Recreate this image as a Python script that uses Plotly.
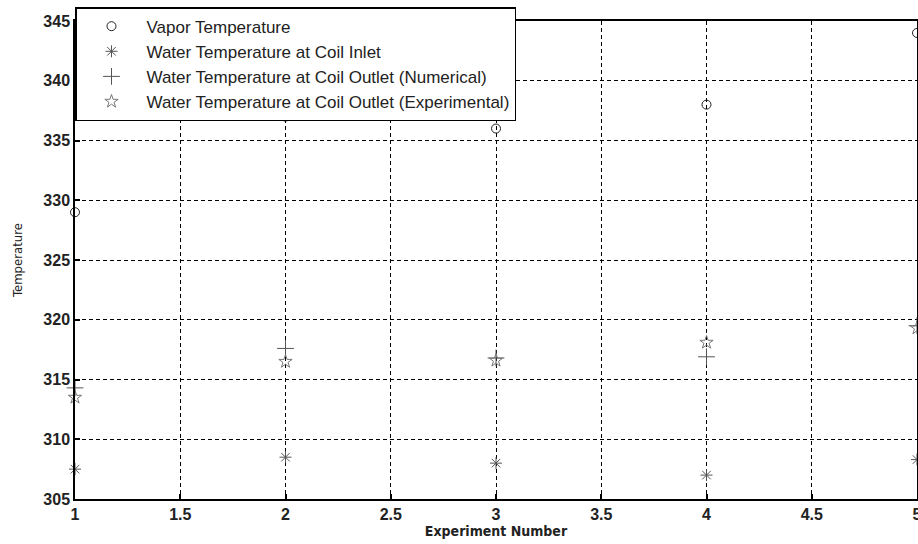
import plotly.graph_objects as go

experiments = [1, 2, 3, 4, 5]
vapor_temp = [329.0, 337.0, 336.0, 338.0, 344.0]
inlet_temp = [307.5, 308.5, 308.0, 307.0, 308.3]
outlet_numerical = [314.3, 317.6, 316.8, 316.9, 319.5]
outlet_experimental = [313.5, 316.5, 316.6, 318.1, 319.3]

x_ticks = [1, 1.5, 2, 2.5, 3, 3.5, 4, 4.5, 5]
y_ticks = [305, 310, 315, 320, 325, 330, 335, 340, 345]

series = [
    ("Vapor Temperature", vapor_temp, "circle-open", "#222222", 9),
    ("Water Temperature at Coil Inlet", inlet_temp, "asterisk-open", "#555555", 10),
    ("Water Temperature at Coil Outlet (Numerical)", outlet_numerical, "cross-thin-open", "#555555", 12),
    ("Water Temperature at Coil Outlet (Experimental)", outlet_experimental, "star-open", "#777777", 10),
]

fig = go.Figure()
for name, vals, sym, col, sz in series:
    fig.add_trace(go.Scatter(
        x=experiments, y=vals, mode="markers", name=name,
        marker=dict(symbol=sym, size=sz, color=col, line=dict(color=col, width=1)),
        cliponaxis=False,
    ))

axis_common = dict(
    showline=True, mirror=True, linecolor="black", linewidth=1.5,
    ticks="inside", ticklen=5, tickcolor="black", tickwidth=1.5,
    showgrid=True, gridcolor="black", griddash="4px,3px", gridwidth=1,
    zeroline=False, ticklabeloverflow="allow", automargin=False,
    tickfont=dict(family="Liberation Sans, Arial", size=16, color="#222222", weight="bold"),
)

fig.update_layout(
    width=918, height=544,
    margin=dict(l=75, r=1, t=21, b=45, autoexpand=False),
    paper_bgcolor="white", plot_bgcolor="white",
    xaxis=dict(range=[1, 5], tickvals=x_ticks, ticktext=[str(t) for t in x_ticks],
               title=dict(text="Experiment Number", standoff=0,
                          font=dict(family="DejaVu Sans Condensed, Liberation Sans Narrow, Liberation Sans, Arial",
                                    size=14, color="#222222", weight="bold")),
               **axis_common),
    yaxis=dict(range=[305, 345], tickvals=y_ticks, ticktext=[str(t) for t in y_ticks],
               title=dict(text="Temperature", standoff=18,
                          font=dict(family="DejaVu Sans Condensed, Liberation Sans Narrow, Liberation Sans, Arial",
                                    size=13, color="#222222")),
               **axis_common),
    legend=dict(
        x=0.0, y=1.029, xanchor="left", yanchor="top",
        bgcolor="white", bordercolor="black", borderwidth=1.5,
        font=dict(family="Liberation Sans, Arial", size=17, color="#222222"),
        tracegroupgap=0, itemwidth=60,
    ),
    showlegend=True,
)

fig.write_html("out.html")
